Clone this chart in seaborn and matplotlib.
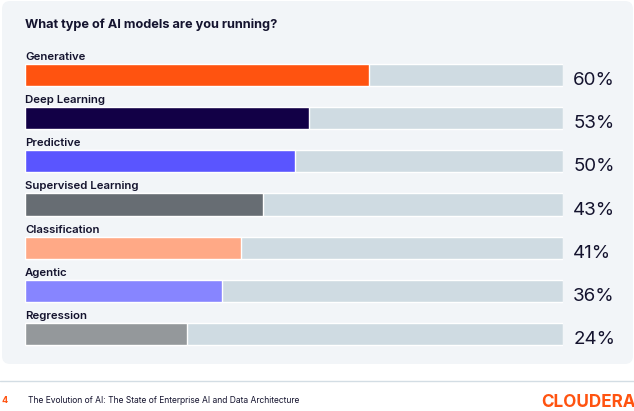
import matplotlib
matplotlib.use("Agg")
import matplotlib.pyplot as plt
import seaborn as sns
import pandas as pd
from matplotlib.patches import FancyBboxPatch

# data
categories = ["Generative", "Deep Learning", "Predictive", "Supervised Learning",
              "Classification", "Agentic", "Regression"]
pct_labels = [60, 53, 50, 43, 41, 36, 24]
# bar lengths as drawn, in percent of the grey track
bar_lengths = [63.9, 52.8, 50.2, 44.2, 40.1, 36.6, 30.1]
track_full = [100] * len(categories)
bar_colors = ["#ff5310", "#120046", "#5a55ff", "#676d73", "#ffa986", "#8785ff", "#94989b"]

title = "What type of AI models are you running?"
footer = "The Evolution of AI: The State of Enterprise AI and Data Architecture"
page_no = "4"
brand = "CLOUDERA"

TEXT = "#14132e"
ORANGE = "#ff5310"
TRACK = "#cfdbe2"
PANEL = "#f2f5f8"

sns.set_theme(style="white")
plt.rcParams["font.family"] = ["Inter", "DejaVu Sans"]

df = pd.DataFrame({"category": categories, "value": bar_lengths, "track": track_full})

W, H = 634, 411
fig = plt.figure(figsize=(W / 100, H / 100), dpi=100, facecolor="white")

# background layer in pixel coordinates
bg = fig.add_axes([0, 0, 1, 1])
bg.set_xlim(0, W)
bg.set_ylim(H, 0)
bg.axis("off")
bg.add_patch(FancyBboxPatch((2, 1), 631, 363, boxstyle="round,pad=0,rounding_size=8",
                            facecolor=PANEL, edgecolor="none"))
bg.plot([0, W], [381, 381], color="#d3dde4", lw=1)
bg.text(25, 28, title, fontsize=9.2, fontweight="bold", color=TEXT, va="baseline")
bg.text(2, 403, page_no, fontsize=6.5, fontweight="bold", color=ORANGE, va="baseline")
bg.text(28, 403, footer, fontsize=6.1, color=TEXT, va="baseline")
bg.text(541, 406.5, brand, fontsize=12.3, fontweight="bold", color=ORANGE, va="baseline")

# bar axes: x 0..100 maps to pixels 25..563
top_px, bot_px = 53.4, 355.6
ax = fig.add_axes([25 / W, (H - bot_px) / H, 538 / W, (bot_px - top_px) / H])
ax.patch.set_alpha(0)
sns.barplot(data=df, x="track", y="category", color=TRACK, width=0.51,
            saturation=1, ax=ax, orient="h")
sns.barplot(data=df, x="value", y="category", hue="category", palette=bar_colors,
            width=0.51, saturation=1, legend=False, ax=ax, orient="h")
ax.set_xlim(0, 100)
ax.set_ylim(6.5, -0.5)
ax.axis("off")

for i, (cat, p) in enumerate(zip(categories, pct_labels)):
    ax.text(0, i - 0.35, cat, fontsize=8.2, fontweight="semibold", color=TEXT,
            va="baseline", clip_on=False)
    ax.text(101.9, i + 0.13, f"{p}%", fontsize=13.5, color=TEXT,
            va="center", clip_on=False)

fig.savefig("out.png", dpi=100, facecolor="white")
